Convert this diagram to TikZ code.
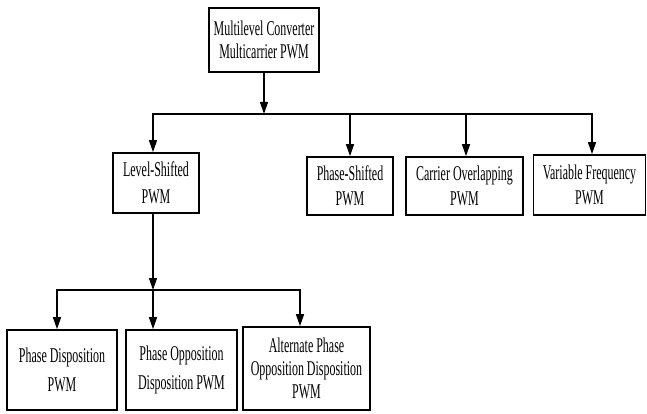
\documentclass[tikz,border=0pt]{standalone}
\usepackage{fontspec}
\setmainfont{Liberation Serif}[FakeStretch=0.57]
\usetikzlibrary{arrows.meta}
\begin{document}
\begin{tikzpicture}[x=1pt,y=-1pt,
  box/.style={draw, line width=1.7pt, align=center, inner sep=0pt, fill=white,
    font=\fontsize{21}{23}\selectfont},
  conn/.style={line width=1.4pt, line cap=rect},
  arr/.style={line width=1.4pt, -{Triangle[length=12pt,width=8pt]}}]
\useasboundingbox (0,0) rectangle (647,414);
% nodes
\node[box, minimum width=110, minimum height=64] (top) at (264,40) {Multilevel Converter\\Multicarrier PWM};
\node[box, minimum width=86, minimum height=60, font=\fontsize{21}{27}\selectfont] (LS) at (156,183) {Level-Shifted\\PWM};
\node[box, minimum width=86, minimum height=58, font=\fontsize{21}{25}\selectfont] (PS) at (350,186) {Phase-Shifted\\PWM};
\node[box, minimum width=117, minimum height=58, font=\fontsize{21}{25}\selectfont] (CO) at (464.5,186) {Carrier Overlapping\\PWM};
\node[box, minimum width=112, minimum height=60, font=\fontsize{21}{25}\selectfont] (VF) at (589.5,185) {Variable Frequency\\PWM};
\node[box, minimum width=110, minimum height=80, font=\fontsize{21}{29}\selectfont] (PD) at (62,370) {Phase Disposition\\PWM};
\node[box, minimum width=111, minimum height=80, font=\fontsize{21}{29}\selectfont] (PO) at (181.5,370) {Phase Opposition\\Disposition PWM};
\node[box, minimum width=127, minimum height=83] (APOD) at (306.5,368.5) {Alternate Phase\\Opposition Disposition\\PWM};
% first bus
\coordinate (j1) at (264,114);
\coordinate (b1) at (153,114);
\coordinate (b2) at (350,114);
\coordinate (b3) at (466,114);
\coordinate (b4) at (592,114);
\draw[arr] (top.south) -- (j1);
\draw[conn] (b1) -- (b4);
\draw[arr] (b1) -- (b1 |- LS.north);
\draw[arr] (b2) -- (b2 |- PS.north);
\draw[arr] (b3) -- (b3 |- CO.north);
\draw[arr] (b4) -- (b4 |- VF.north);
% second bus
\coordinate (k) at (153,290);
\coordinate (kl) at (57,290);
\coordinate (kr) at (300,290);
\draw[arr] (k |- LS.south) -- (k);
\draw[conn] (kl) -- (kr);
\draw[arr] (kl) -- (kl |- PD.north);
\draw[arr] (k) -- (k |- PO.north);
\draw[arr] (kr) -- (kr |- APOD.north);
\end{tikzpicture}
\end{document}
